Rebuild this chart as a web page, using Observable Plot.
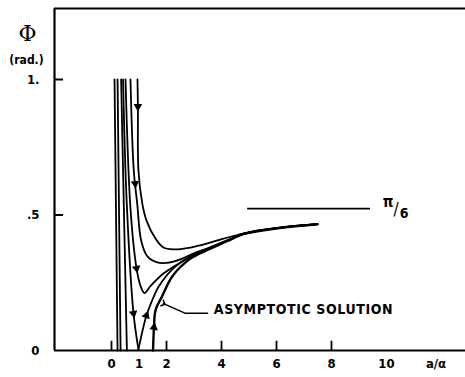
<!DOCTYPE html>
<html><head><meta charset="utf-8">
<script src="https://cdn.jsdelivr.net/npm/d3@7"></script>
<script src="https://cdn.jsdelivr.net/npm/@observablehq/plot@0.6"></script>
<style>body{margin:0;background:#fff}</style>
</head><body><div id="chart"></div>
<script>
// Axis ticks and labels
const xTicks = [0, 2, 4, 6, 8];
const xTickLabels = [0, 1, 2, 4, 6, 8, 10];
const yTicks = [0.5, 1];
const yTickLabels = ["0", ".5", "1."];
const yTickValues = [0, 0.5, 1];

// Trajectories [a/alpha, phi]
const straight1 = [[0.11, 1.0], [0.22, 0]];
const straight2 = [[0.22, 1.0], [0.33, 0]];
const straight3 = [[0.35, 1.0], [0.56, 0]];
const curveDdown = [[0.42, 1.0], [0.55, 0.554], [0.8, 0.137], [0.98, 0.004]];
const curveDup = [[0.98, 0.004], [1.27, 0.129], [1.5, 0.19], [1.71, 0.235], [2.25, 0.303], [2.87, 0.347], [3.49, 0.374], [4.22, 0.405], [4.69, 0.427], [5.05, 0.436], [6.25, 0.454], [7.49, 0.466]];
const curveC = [[0.51, 1.0], [0.69, 0.524], [0.91, 0.303], [1.05, 0.24], [1.2, 0.212], [1.42, 0.238], [1.89, 0.284], [2.51, 0.325], [3.13, 0.358], [3.49, 0.374], [4.22, 0.406], [4.69, 0.427], [5.05, 0.436], [6.25, 0.454], [7.49, 0.466]];
const curveB = [[0.69, 1.0], [0.81, 0.664], [0.935, 0.542], [1.08, 0.405], [1.3, 0.348], [1.63, 0.326], [2.0, 0.323], [2.51, 0.336], [2.98, 0.358], [3.49, 0.377], [4.22, 0.407], [4.69, 0.428], [5.05, 0.437], [6.25, 0.454], [7.49, 0.466]];
const curveA = [[0.945, 1.0], [0.96, 0.9], [0.98, 0.664], [1.12, 0.542], [1.27, 0.48], [1.6, 0.413], [1.89, 0.38], [2.25, 0.373], [2.87, 0.38], [3.49, 0.395], [4.07, 0.413], [4.69, 0.429], [5.05, 0.438], [6.25, 0.455], [7.49, 0.466]];
const asymptotic = [[1.51, 0], [1.545, 0.085], [1.6, 0.148], [1.84, 0.2], [2.22, 0.275], [2.87, 0.339], [3.49, 0.371], [4.22, 0.404], [4.69, 0.426], [5.05, 0.435], [6.25, 0.454], [7.49, 0.466]];

// Direction arrows on the trajectories [x, y, angle]
const arrowMarks = [[0.96, 0.9, 180], [0.86, 0.616, 174], [0.91, 0.303, 170], [0.8, 0.137, 170], [1.27, 0.129, 20], [1.545, 0.085, 8]];

const limitValue = Math.PI / 6;

const series = [
  ["s1", straight1], ["s2", straight2], ["s3", straight3],
  ["d1", curveDdown], ["d2", curveDup], ["c", curveC], ["b", curveB], ["a", curveA]
];
const rows = series.flatMap(([k, pts]) => pts.map(([x, y]) => ({k, x, y})));
const asymRows = asymptotic.map(([x, y]) => ({x, y}));
const arrows = arrowMarks.map(([x, y, r]) => ({x, y, r}));

const XMIN = -2.073, XMAX = 12.873, YMAX = 1.262;
const F = "DejaVu Sans Condensed";

const chart = Plot.plot({
  width: 465, height: 377,
  marginLeft: 54, marginRight: 0, marginTop: 8, marginBottom: 27,
  x: {domain: [XMIN, XMAX], axis: null},
  y: {domain: [0, YMAX], axis: null},
  style: {fontFamily: F, fontWeight: "bold", background: "#fff", color: "#000"},
  marks: [
    Plot.ruleX([XMIN], {y1: 0, y2: YMAX, strokeWidth: 2.2}),
    Plot.ruleY([YMAX], {x1: XMIN, x2: XMAX, strokeWidth: 2}),
    Plot.ruleY([0], {x1: XMIN, x2: XMAX, strokeWidth: 2.2}),
    Plot.ruleX(xTicks, {y1: 0, y2: 0.034, strokeWidth: 1.8}),
    Plot.ruleY(yTicks, {x1: XMIN, x2: XMIN + 0.33, strokeWidth: 2}),
    Plot.text(xTickLabels, {x: d => d, frameAnchor: "bottom", dy: 17, fontSize: 13, text: d => String(d)}),
    Plot.text(["a/α"], {x: 11.8, frameAnchor: "bottom", dy: 17, fontSize: 13}),
    Plot.text(yTickValues, {y: d => d, frameAnchor: "left", textAnchor: "end", dx: -15, fontSize: 13, text: (d, i) => yTickLabels[i]}),
    Plot.text(["Φ"], {frameAnchor: "top-left", textAnchor: "middle", dx: -27, dy: 17, fontSize: 22, fontWeight: "normal", fontFamily: "DejaVu Serif"}),
    Plot.text(["(rad.)"], {frameAnchor: "top-left", textAnchor: "middle", dx: -28, dy: 47, fontSize: 12}),
    Plot.line(rows, {x: "x", y: "y", z: "k", curve: "catmull-rom", strokeWidth: 1.8}),
    Plot.line(asymRows, {x: "x", y: "y", curve: "catmull-rom", strokeWidth: 2.4}),
    Plot.dot(arrows, {x: "x", y: "y", rotate: "r", symbol: "triangle", r: 3.2, fill: "#000", stroke: "none"}),
    Plot.ruleY([limitValue], {x1: 4.95, x2: 9.42, strokeWidth: 1.6}),
    Plot.text(["π"], {x: 10.35, y: limitValue, dx: -8, dy: -6, fontSize: 15}),
    Plot.text(["/"], {x: 10.35, y: limitValue, dx: 0, dy: 1, fontSize: 17, fontWeight: "normal"}),
    Plot.text(["6"], {x: 10.35, y: limitValue, dx: 8, dy: 5, fontSize: 14}),
    Plot.line([[1.89, 0.173], [2.69, 0.137], [3.49, 0.137]], {markerStart: "arrow", strokeWidth: 1.5}),
    Plot.text(["ASYMPTOTIC SOLUTION"], {x: 3.72, y: 0.151, textAnchor: "start", fontSize: 14})
  ]
});
chart.querySelectorAll("text").forEach(t => {
  if (t.textContent === "ASYMPTOTIC SOLUTION") t.setAttribute("letter-spacing", "0.6");
});
document.getElementById("chart").append(chart);
</script>
</body></html>
